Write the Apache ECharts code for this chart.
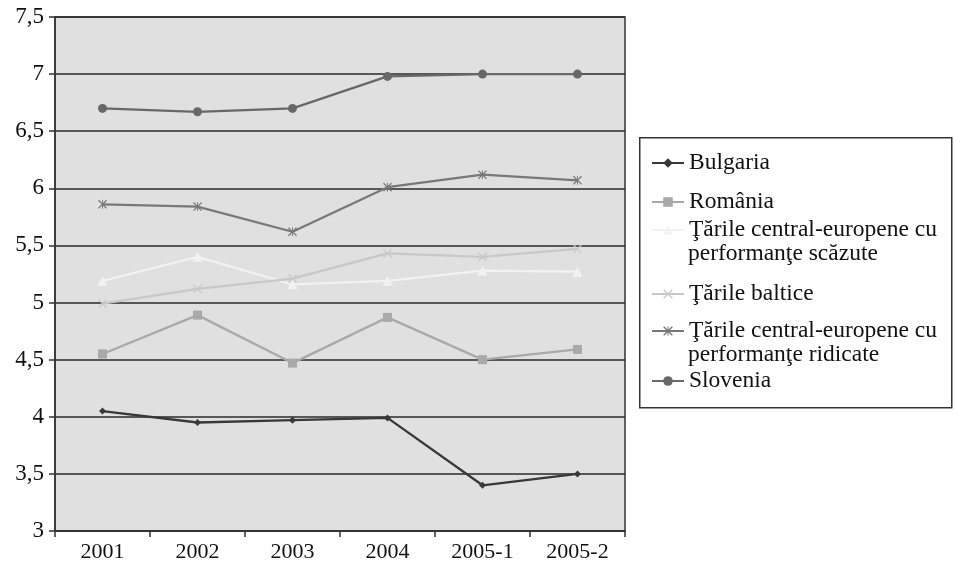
<!DOCTYPE html>
<html><head><meta charset="utf-8">
<script src="https://cdn.jsdelivr.net/npm/echarts@6/dist/echarts.min.js"></script>
<style>html,body{margin:0;padding:0;background:#fff}#c{width:954px;height:564px}</style>
</head><body><div id="c"></div>
<script>
var categories = ['2001','2002','2003','2004','2005-1','2005-2'];
var bulgaria = [4.05, 3.95, 3.97, 3.99, 3.40, 3.50];
var romania = [4.55, 4.89, 4.47, 4.87, 4.50, 4.59];
var cenLow = [5.19, 5.40, 5.16, 5.19, 5.28, 5.27];
var baltice = [4.99, 5.12, 5.21, 5.43, 5.40, 5.47];
var cenHigh = [5.86, 5.84, 5.62, 6.01, 6.12, 6.07];
var slovenia = [6.70, 6.67, 6.70, 6.98, 7.00, 7.00];
var seriesNames = ['Bulgaria', 'România', 'Ţările central-europene cu performanţe scăzute', 'Ţările baltice', 'Ţările central-europene cu performanţe ridicate', 'Slovenia'];
var legendLines = [['Bulgaria'], ['România'], ['Ţările central-europene cu', 'performanţe scăzute'], ['Ţările baltice'], ['Ţările central-europene cu', 'performanţe ridicate'], ['Slovenia']];

var FONT = '"Liberation Serif","DejaVu Serif",serif';
var xPath = 'path://M0,1L1,0L5,4L9,0L10,1L6,5L10,9L9,10L5,6L1,10L0,9L4,5Z';
var starPath = 'path://M0,1L1,0L4.5,3.5L4.5,0L5.5,0L5.5,3.5L9,0L10,1L6,5L10,9L9,10L5.5,6.5L5.5,10L4.5,10L4.5,6.5L1,10L0,9L4,5Z';
var colors = ['#383838', '#a9a9a9', '#f2f2f2', '#c8c8c8', '#787878', '#686868'];
var symbols = ['diamond', 'rect', 'triangle', xPath, starPath, 'circle'];
var symSizes = [7, 9, 10, 9, 9, 9];
var dataSets = [bulgaria, romania, cenLow, baltice, cenHigh, slovenia];
var iconCenters = [163, 202, 230, 294, 331, 381];

var series = dataSets.map(function (d, i) {
  return {
    name: seriesNames[i], type: 'line', data: d,
    symbol: symbols[i], symbolSize: symSizes[i], showSymbol: true,
    lineStyle: { color: colors[i], width: 2.3 },
    itemStyle: { color: colors[i] },
    z: 3
  };
});

var LFS = 23.5;
var legends = seriesNames.map(function (n, i) {
  return {
    data: [n], orient: 'vertical', left: 651, top: iconCenters[i] - 14.5,
    padding: 0, itemWidth: 32, itemHeight: 12, itemGap: 0,
    selectedMode: false,
    textStyle: { fontFamily: FONT, fontSize: LFS, color: '#111', lineHeight: 24, padding: [0, 0, 5, 0] },
    formatter: function () { return legendLines[i][0]; }
  };
});

var graphics = [{
  type: 'rect', left: 639, top: 137, z: -1,
  shape: { width: 312, height: 270 },
  style: { fill: '#fff', stroke: '#333', lineWidth: 1.5 }
}];
legendLines.forEach(function (l, i) {
  if (l.length > 1) {
    graphics.push({ type: 'text', x: 688, y: iconCenters[i] + 24, z: 10,
      style: { text: l[1], fontFamily: FONT, fontSize: LFS, fill: '#111',
        verticalAlign: 'middle', textVerticalAlign: 'middle' } });
  }
});

var chart = echarts.init(document.getElementById('c'));
chart.setOption({
  animation: false,
  backgroundColor: '#fff',
  grid: { left: 55, right: 329, top: 17, bottom: 33, show: true, backgroundColor: '#e0e0e0', borderColor: '#333', borderWidth: 1.5 },
  legend: legends,
  graphic: graphics,
  xAxis: {
    type: 'category', data: categories, boundaryGap: true,
    axisLine: { lineStyle: { color: '#333', width: 1.5 } },
    axisTick: { show: true, inside: false, length: 6, lineStyle: { color: '#333', width: 1.5 } },
    axisLabel: { fontFamily: FONT, fontSize: 22, color: '#111', margin: 10 },
    splitLine: { show: false }
  },
  yAxis: {
    type: 'value', min: 3, max: 7.5, interval: 0.5,
    axisLine: { show: true, lineStyle: { color: '#333', width: 1.5 } },
    axisTick: { show: true, length: 6, lineStyle: { color: '#333', width: 1.5 } },
    axisLabel: { fontFamily: FONT, fontSize: 23, color: '#111', margin: 11,
      formatter: function (v) { return String(v).replace('.', ','); } },
    splitLine: { show: true, lineStyle: { color: '#2a2a2a', width: 1.5 } }
  },
  series: series
});
</script>
</body></html>
